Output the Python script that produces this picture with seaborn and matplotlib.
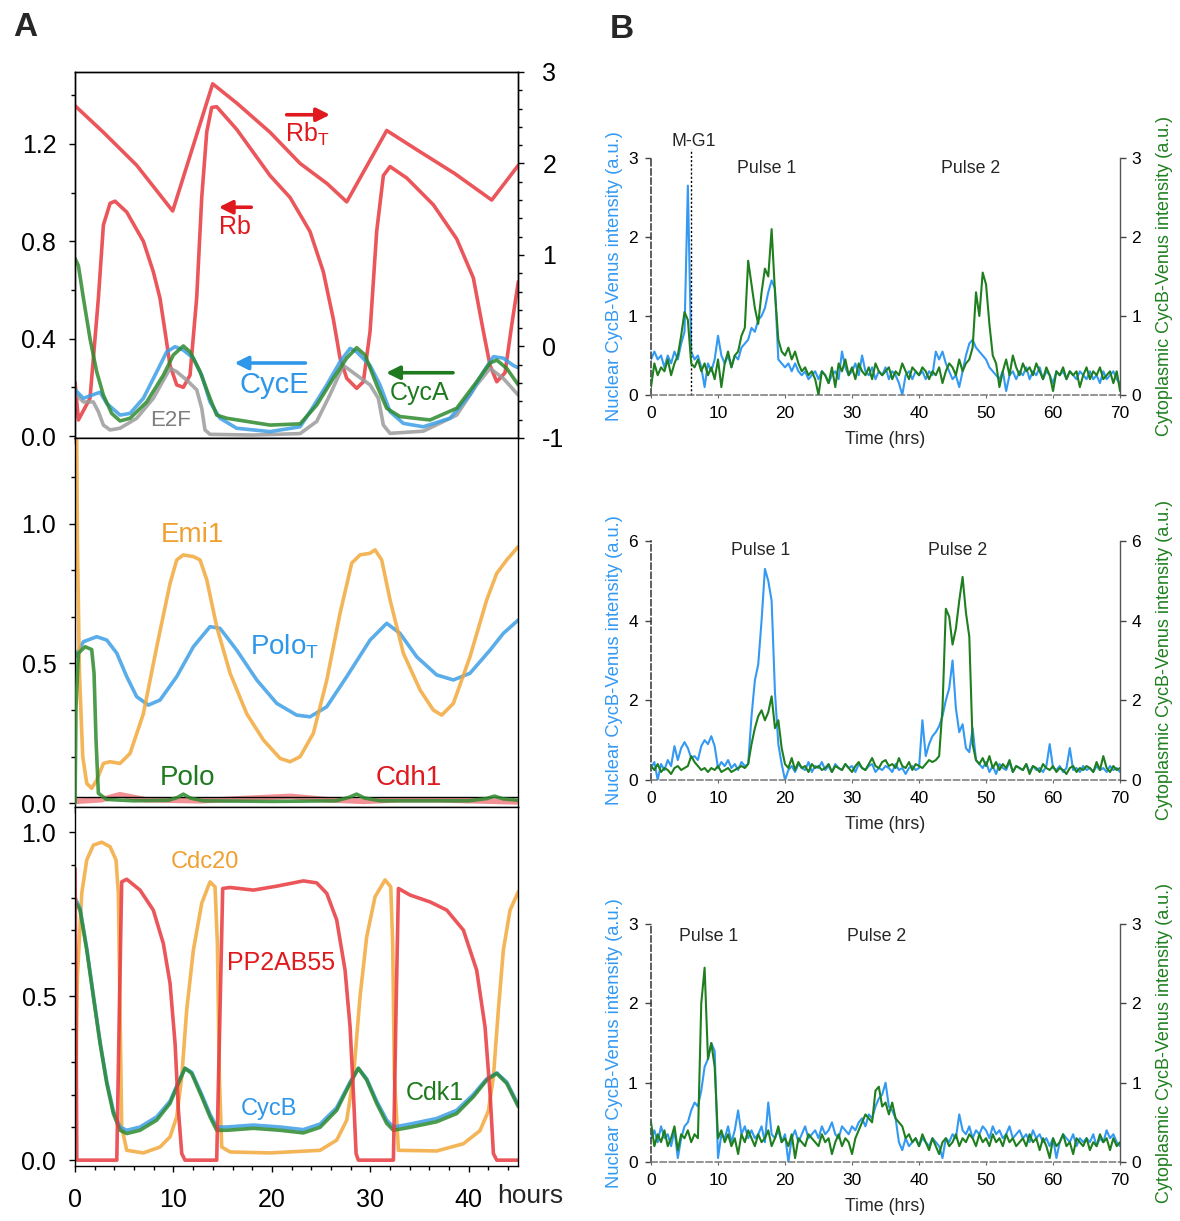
import numpy as np
import matplotlib
matplotlib.use("Agg")
import matplotlib.pyplot as plt
from matplotlib.ticker import MultipleLocator, FormatStrFormatter
import seaborn as sns

sns.set_theme(style="ticks")
plt.rcParams['font.family'] = ['Liberation Sans', 'DejaVu Sans']
plt.rcParams['mathtext.default'] = 'regular'
plt.rcParams['axes.unicode_minus'] = False

# ---------------- Panel A: model simulation (time in hours) ----------------
# top: Rb, RbT (right axis), CycE, CycA, E2F
rbT_t = [0, 2.88, 6.26, 9.92, 13.98, 16.42, 19.81, 22.86, 25.6, 27.6, 31.66, 34.86, 38.56,
         42.33, 45.03]
rbT_v = [2.63, 2.34, 1.98, 1.48, 2.87, 2.66, 2.34, 2.00, 1.78, 1.58, 2.36, 2.14, 1.89,
         1.60, 1.98]

rb_t = [0, 0.34, 1.52, 2.37, 2.88, 3.56, 4.06, 5.25, 6.94, 7.95,
        8.63, 9.14, 9.65, 10.33, 11.0, 11.68, 12.36, 12.87, 13.38, 13.88,
        14.39, 16.42, 19.81, 21.84, 22.86, 23.87, 25.22, 26.24, 26.92, 27.6,
        28.61, 29.29, 29.97, 30.64, 31.32, 32.0, 33.7, 36.4, 38.77, 40.46,
        41.48, 42.16, 42.84, 43.68, 44.36, 45.03]
rb_v = [0.22, 0.066, 0.155, 0.566, 0.867, 0.956, 0.965, 0.92, 0.80, 0.675,
        0.566, 0.43, 0.29, 0.21, 0.20, 0.25, 0.57, 0.98, 1.25, 1.35,
        1.353, 1.26, 1.07, 0.98, 0.91, 0.84, 0.675, 0.48, 0.32, 0.237,
        0.196, 0.223, 0.43, 0.84, 1.07, 1.107, 1.06, 0.95, 0.81, 0.65,
        0.43, 0.29, 0.223, 0.26, 0.456, 0.634]

cyce_t = [0, 0.85, 1.86, 2.54, 3.22, 4.57, 5.59, 6.94, 8.3, 9.31,
          10.16, 11.0, 12.02, 12.87, 13.71, 14.73, 16.42, 19.81, 22.86, 23.87,
          25.57, 26.92, 27.94, 28.61, 29.97, 30.98, 32.0, 33.35, 35.38, 38.09,
          40.12, 41.48, 42.5, 43.5, 44.52, 45.03]
cyce_v = [0.19, 0.155, 0.17, 0.18, 0.134, 0.086, 0.093, 0.155, 0.264, 0.346,
          0.367, 0.353, 0.32, 0.25, 0.14, 0.073, 0.032, 0.018, 0.038, 0.10,
          0.21, 0.305, 0.36, 0.346, 0.29, 0.21, 0.10, 0.052, 0.038, 0.073,
          0.17, 0.264, 0.326, 0.32, 0.29, 0.28]

cyca_t = [0, 0.34, 0.85, 1.52, 2.2, 2.88, 3.72, 4.57, 5.59, 7.28,
          8.97, 9.99, 11.0, 11.68, 12.7, 13.71, 14.39, 15.41, 19.81, 22.86,
          24.55, 26.24, 27.6, 28.61, 29.46, 30.64, 31.66, 33.01, 36.06, 38.77,
          40.8, 42.16, 42.84, 43.85, 45.03]
cyca_v = [0.73, 0.70, 0.566, 0.40, 0.264, 0.168, 0.093, 0.062, 0.073, 0.14,
          0.25, 0.333, 0.37, 0.346, 0.264, 0.155, 0.086, 0.073, 0.045, 0.05,
          0.127, 0.237, 0.32, 0.363, 0.333, 0.21, 0.114, 0.08, 0.066, 0.114,
          0.223, 0.30, 0.312, 0.278, 0.21]

e2f_t = [0, 0.85, 1.86, 2.37, 2.88, 3.56, 4.57, 6.26, 7.95, 9.65,
         10.33, 11.34, 12.36, 12.87, 13.2, 13.71, 18.0, 22.86, 24.55, 25.9,
         27.26, 28.61, 29.97, 30.81, 31.32, 32.0, 35.38, 38.77, 40.8, 42.16,
         43.5, 45.03]
e2f_v = [0.175, 0.14, 0.14, 0.10, 0.045, 0.025, 0.032, 0.073, 0.155, 0.278,
         0.264, 0.23, 0.19, 0.114, 0.025, 0.007, 0.004, 0.01, 0.06, 0.17,
         0.29, 0.25, 0.21, 0.155, 0.045, 0.011, 0.02, 0.086, 0.21, 0.278,
         0.237, 0.168]

# middle: Emi1, PoloT, Polo, Cdh1
emi1_t = [0, 0.17, 0.24, 0.44, 0.78, 1.19, 1.69, 2.2, 2.88, 3.56,
          4.57, 5.59, 6.94, 8.3, 9.65, 10.33, 11.0, 12.02, 12.7, 13.38,
          14.39, 15.75, 17.44, 19.13, 20.83, 21.84, 22.86, 24.21, 25.57, 26.92,
          28.11, 28.95, 29.97, 30.48, 31.15, 32.0, 33.35, 35.05, 36.4, 37.25,
          38.43, 40.12, 41.82, 42.84, 43.85, 45.03]
emi1_v = [1.40, 1.30, 0.94, 0.47, 0.166, 0.07, 0.053, 0.082, 0.142, 0.148,
          0.142, 0.178, 0.32, 0.56, 0.787, 0.871, 0.889, 0.883, 0.871, 0.80,
          0.632, 0.465, 0.32, 0.226, 0.16, 0.148, 0.166, 0.25, 0.44, 0.68,
          0.86, 0.889, 0.895, 0.907, 0.871, 0.728, 0.537, 0.405, 0.333, 0.315,
          0.357, 0.524, 0.728, 0.823, 0.871, 0.919]

poloT_t = [0, 0.85, 2.2, 3.22, 4.24, 5.25, 6.26, 7.45, 8.63, 10.33,
           12.02, 13.71, 14.73, 16.42, 18.46, 20.49, 22.52, 23.87, 25.57, 27.6,
           29.97, 31.66, 33.01, 34.71, 36.74, 38.43, 40.12, 42.16, 43.51, 45.03]
poloT_v = [0.524, 0.578, 0.596, 0.584, 0.537, 0.453, 0.381, 0.351, 0.369, 0.453,
           0.56, 0.632, 0.626, 0.548, 0.441, 0.357, 0.315, 0.309, 0.345, 0.453,
           0.584, 0.644, 0.608, 0.524, 0.459, 0.441, 0.465, 0.548, 0.608, 0.656]

polo_t = [0, 0.1, 0.34, 1.02, 1.69, 1.93, 2.13, 2.37, 3.2, 6.0,
          9.5, 10.4, 11.0, 11.7, 13.0, 20.0, 26.5, 27.8, 28.6, 29.4,
          31.0, 40.0, 41.8, 42.6, 43.5, 45.03]
polo_v = [0.0, 0.345, 0.537, 0.56, 0.55, 0.465, 0.226, 0.035, 0.013, 0.008,
          0.01, 0.02, 0.032, 0.018, 0.008, 0.006, 0.008, 0.02, 0.032, 0.018,
          0.008, 0.008, 0.016, 0.025, 0.015, 0.01]

cdh1_t = [0, 2.7, 4.55, 7.13, 12.68, 18.23, 21.92, 25.62, 29.32, 33.01, 36.71, 40.41, 45.03]
cdh1_v = [0.006, 0.012, 0.03, 0.012, 0.008, 0.018, 0.024, 0.012, 0.006, 0.012, 0.012, 0.008,
          0.004]

# bottom: Cdc20, PP2AB55, CycB, Cdk1
cdc20_t = [0, 0.24, 0.68, 1.19, 1.86, 2.71, 3.56, 4.16, 4.40, 4.57,
           4.74, 5.25, 6.94, 8.63, 9.65, 10.33, 10.84, 11.34, 12.02, 12.87,
           13.71, 14.22, 14.46, 14.66, 14.9, 15.75, 19.81, 24.89, 26.58, 27.6,
           28.28, 28.95, 29.63, 30.48, 31.49, 32.07, 32.27, 32.44, 32.85, 36.74,
           39.45, 41.14, 41.99, 42.5, 43.0, 43.51, 44.19, 45.03]
cdc20_v = [0.05, 0.56, 0.813, 0.915, 0.96, 0.969, 0.955, 0.915, 0.813, 0.457,
           0.10, 0.03, 0.022, 0.04, 0.071, 0.132, 0.254, 0.457, 0.64, 0.783,
           0.848, 0.833, 0.66, 0.254, 0.04, 0.025, 0.022, 0.03, 0.061, 0.122,
           0.254, 0.498, 0.681, 0.803, 0.854, 0.833, 0.66, 0.254, 0.03, 0.028,
           0.05, 0.09, 0.15, 0.254, 0.457, 0.64, 0.762, 0.818]

pp2a_t = [0, 0.1, 0.18, 4.24, 4.5, 4.74, 5.25, 6.6, 7.95, 8.97,
          9.65, 10.16, 10.5, 10.84, 11.17, 14.39, 14.73, 15.0, 15.75, 18.12,
          20.49, 23.19, 24.55, 25.57, 26.58, 27.43, 27.94, 28.28, 28.55, 28.78,
          32.34, 32.61, 32.85, 34.03, 36.06, 37.76, 39.45, 40.8, 41.65, 42.16,
          42.5, 42.84, 45.03]
pp2a_v = [0.889, 0.45, 0.0, 0.0, 0.457, 0.848, 0.856, 0.823, 0.762, 0.66,
          0.539, 0.356, 0.152, 0.02, 0.0, 0.0, 0.457, 0.828, 0.831, 0.823,
          0.835, 0.851, 0.845, 0.813, 0.732, 0.579, 0.406, 0.203, 0.02, 0.0,
          0.0, 0.457, 0.828, 0.808, 0.787, 0.762, 0.701, 0.579, 0.406, 0.203,
          0.02, 0.0, 0.0]

cdk1_t = [0, 0.51, 1.19, 1.86, 2.54, 3.22, 3.89, 4.57, 5.25, 6.6,
          8.3, 9.65, 10.5, 11.17, 11.85, 12.87, 13.71, 14.39, 15.41, 18.12,
          20.83, 23.19, 24.89, 26.58, 27.94, 28.78, 29.63, 30.64, 31.66, 32.34,
          34.03, 36.74, 38.77, 40.46, 41.82, 42.84, 43.85, 45.03]
cdk1_v = [0.79, 0.762, 0.64, 0.498, 0.356, 0.234, 0.142, 0.091, 0.081, 0.091,
          0.122, 0.173, 0.234, 0.28, 0.264, 0.193, 0.132, 0.091, 0.091, 0.097,
          0.091, 0.083, 0.10, 0.152, 0.234, 0.28, 0.244, 0.173, 0.112, 0.091,
          0.10, 0.117, 0.142, 0.193, 0.244, 0.264, 0.234, 0.163]
cycb_v = [0.80, 0.767, 0.645, 0.503, 0.361, 0.24, 0.15, 0.101, 0.091, 0.101,
          0.132, 0.18, 0.238, 0.28, 0.268, 0.2, 0.14, 0.101, 0.101, 0.107,
          0.101, 0.093, 0.11, 0.16, 0.238, 0.28, 0.248, 0.18, 0.122, 0.101,
          0.11, 0.127, 0.152, 0.2, 0.248, 0.266, 0.238, 0.168]

# ---------------- Panel B: single-cell CycB-Venus traces, every 30 min ----------------
t_b = np.arange(141) * 0.5

nuc_1 = [0.45, 0.55, 0.45, 0.50, 0.35, 0.50, 0.40, 0.55, 0.45, 0.65,
         0.80, 2.65, 0.55, 0.45, 0.50, 0.35, 0.10, 0.40, 0.30, 0.45,
         0.75, 0.50, 0.40, 0.50, 0.35, 0.50, 0.45, 0.60, 0.65, 0.70,
         0.85, 0.80, 0.95, 1.00, 1.10, 1.30, 1.45, 1.35, 0.45, 0.40,
         0.35, 0.40, 0.30, 0.40, 0.30, 0.25, 0.30, 0.20, 0.25, 0.30,
         0.20, 0.30, 0.25, 0.15, 0.25, 0.30, 0.20, 0.55, 0.35, 0.25,
         0.30, 0.40, 0.25, 0.50, 0.30, 0.25, 0.35, 0.20, 0.30, 0.25,
         0.35, 0.20, 0.30, 0.25, 0.15, 0.00, 0.25, 0.30, 0.20, 0.30,
         0.25, 0.30, 0.20, 0.30, 0.25, 0.55, 0.45, 0.55, 0.40, 0.30,
         0.20, 0.25, 0.10, 0.30, 0.50, 0.65, 0.70, 0.60, 0.55, 0.50,
         0.45, 0.35, 0.30, 0.25, 0.20, 0.30, 0.05, 0.25, 0.30, 0.20,
         0.30, 0.25, 0.35, 0.20, 0.30, 0.25, 0.35, 0.20, 0.30, 0.25,
         0.15, 0.30, 0.25, 0.30, 0.20, 0.30, 0.25, 0.20, 0.30, 0.25,
         0.20, 0.30, 0.20, 0.25, 0.15, 0.30, 0.20, 0.25, 0.30, 0.20,
         0.15]
cyt_1 = [0.10, 0.40, 0.25, 0.35, 0.30, 0.45, 0.25, 0.40, 0.50, 0.75,
         1.05, 0.95, 0.40, 0.35, 0.45, 0.30, 0.40, 0.25, 0.35, 0.20,
         0.45, 0.10, 0.40, 0.55, 0.35, 0.50, 0.55, 0.75, 0.85, 1.70,
         1.40, 1.10, 0.90, 1.30, 1.60, 1.50, 2.10, 1.30, 0.70, 0.55,
         0.50, 0.60, 0.45, 0.55, 0.40, 0.30, 0.35, 0.25, 0.30, 0.20,
         0.00, 0.30, 0.25, 0.15, 0.35, 0.10, 0.40, 0.30, 0.45, 0.25,
         0.35, 0.20, 0.40, 0.30, 0.25, 0.35, 0.20, 0.40, 0.30, 0.25,
         0.30, 0.35, 0.20, 0.30, 0.25, 0.40, 0.30, 0.20, 0.35, 0.30,
         0.25, 0.35, 0.30, 0.20, 0.30, 0.25, 0.35, 0.15, 0.30, 0.40,
         0.35, 0.25, 0.45, 0.30, 0.40, 0.45, 0.60, 1.30, 1.00, 1.55,
         1.40, 0.90, 0.50, 0.40, 0.10, 0.30, 0.45, 0.25, 0.50, 0.35,
         0.25, 0.40, 0.30, 0.35, 0.25, 0.40, 0.30, 0.20, 0.35, 0.25,
         0.05, 0.30, 0.25, 0.35, 0.20, 0.30, 0.25, 0.30, 0.10, 0.25,
         0.35, 0.20, 0.30, 0.25, 0.35, 0.20, 0.25, 0.30, 0.15, 0.30,
         0.05]

nuc_2 = [0.30, 0.45, 0.00, 0.40, 0.25, 0.50, 0.35, 0.85, 0.50, 0.80,
         0.95, 0.80, 0.55, 0.60, 0.50, 0.85, 1.00, 0.90, 1.10, 0.85,
         0.30, 0.45, 0.35, 0.50, 0.30, 0.40, 0.25, 0.45, 0.35, 0.40,
         1.60, 2.50, 2.90, 4.00, 5.30, 5.00, 4.50, 2.20, 0.90, 0.40,
         0.00, 0.25, 0.35, 0.20, 0.40, 0.30, 0.25, 0.45, 0.20, 0.35,
         0.30, 0.45, 0.25, 0.35, 0.20, 0.40, 0.30, 0.25, 0.40, 0.30,
         0.35, 0.20, 0.40, 0.30, 0.25, 0.35, 0.40, 0.20, 0.30, 0.25,
         0.35, 0.30, 0.20, 0.40, 0.25, 0.30, 0.15, 0.30, 0.35, 0.25,
         0.30, 1.50, 0.60, 0.90, 1.10, 1.20, 1.35, 1.60, 2.00, 2.30,
         3.00, 1.80, 1.20, 1.40, 0.80, 0.70, 1.30, 0.50, 0.40, 0.30,
         0.45, 0.20, 0.35, 0.15, 0.40, 0.30, 0.25, 0.45, 0.20, 0.35,
         0.30, 0.25, 0.40, 0.20, 0.35, 0.25, 0.30, 0.20, 0.35, 0.90,
         0.30, 0.25, 0.35, 0.20, 0.30, 0.80, 0.25, 0.30, 0.20, 0.35,
         0.25, 0.30, 0.20, 0.35, 0.25, 0.30, 0.20, 0.35, 0.25, 0.30,
         0.20]
cyt_2 = [0.35, 0.25, 0.40, 0.20, 0.30, 0.25, 0.15, 0.30, 0.35, 0.25,
         0.30, 0.35, 0.60, 0.45, 0.35, 0.25, 0.30, 0.20, 0.30, 0.25,
         0.35, 0.20, 0.25, 0.30, 0.20, 0.25, 0.30, 0.35, 0.30, 0.40,
         0.90, 1.30, 1.60, 1.75, 1.50, 1.70, 2.10, 1.30, 1.50, 0.80,
         0.40, 0.30, 0.55, 0.25, 0.45, 0.30, 0.35, 0.20, 0.40, 0.30,
         0.35, 0.25, 0.30, 0.40, 0.20, 0.35, 0.30, 0.25, 0.40, 0.30,
         0.20, 0.35, 0.45, 0.30, 0.25, 0.40, 0.55, 0.35, 0.30, 0.45,
         0.50, 0.35, 0.40, 0.30, 0.55, 0.35, 0.30, 0.45, 0.25, 0.40,
         0.35, 0.30, 0.40, 0.50, 0.45, 0.50, 0.60, 1.80, 4.30, 4.10,
         3.40, 3.80, 4.50, 5.10, 4.20, 3.60, 0.90, 0.50, 0.40, 0.55,
         0.35, 0.60, 0.30, 0.45, 0.25, 0.40, 0.30, 0.50, 0.20, 0.35,
         0.30, 0.25, 0.40, 0.15, 0.35, 0.30, 0.20, 0.40, 0.30, 0.25,
         0.35, 0.20, 0.30, 0.25, 0.15, 0.30, 0.35, 0.20, 0.30, 0.25,
         0.35, 0.30, 0.20, 0.45, 0.25, 0.60, 0.30, 0.20, 0.35, 0.25,
         0.30]

nuc_3 = [0.30, 0.40, 0.25, 0.45, 0.30, 0.35, 0.20, 0.40, 0.05, 0.30,
         0.45, 0.50, 0.65, 0.75, 0.70, 0.90, 1.20, 1.30, 1.50, 1.40,
         0.05, 0.35, 0.30, 0.45, 0.25, 0.40, 0.65, 0.35, 0.45, 0.30,
         0.40, 0.30, 0.35, 0.45, 0.25, 0.75, 0.35, 0.30, 0.40, 0.25,
         0.35, 0.00, 0.30, 0.40, 0.25, 0.35, 0.45, 0.30, 0.35, 0.40,
         0.30, 0.45, 0.35, 0.40, 0.50, 0.35, 0.30, 0.45, 0.40, 0.35,
         0.45, 0.40, 0.50, 0.55, 0.45, 0.60, 0.55, 0.70, 0.80, 0.85,
         1.00, 0.70, 0.65, 0.55, 0.25, 0.15, 0.30, 0.20, 0.25, 0.30,
         0.20, 0.30, 0.25, 0.20, 0.30, 0.25, 0.20, 0.05, 0.30, 0.25,
         0.35, 0.30, 0.60, 0.40, 0.35, 0.45, 0.30, 0.40, 0.35, 0.45,
         0.40, 0.30, 0.45, 0.35, 0.40, 0.30, 0.35, 0.45, 0.30, 0.35,
         0.40, 0.30, 0.35, 0.25, 0.40, 0.30, 0.35, 0.25, 0.30, 0.20,
         0.30, 0.05, 0.25, 0.35, 0.30, 0.25, 0.35, 0.20, 0.30, 0.25,
         0.30, 0.25, 0.35, 0.20, 0.30, 0.25, 0.40, 0.30, 0.35, 0.25,
         0.20]
cyt_3 = [0.50, 0.20, 0.35, 0.25, 0.40, 0.20, 0.30, 0.45, 0.15, 0.35,
         0.30, 0.40, 0.25, 0.35, 0.30, 2.00, 2.45, 1.30, 1.50, 1.20,
         0.30, 0.40, 0.25, 0.35, 0.20, 0.30, 0.10, 0.35, 0.25, 0.40,
         0.30, 0.20, 0.35, 0.25, 0.30, 0.40, 0.20, 0.30, 0.45, 0.25,
         0.30, 0.20, 0.35, 0.05, 0.30, 0.25, 0.20, 0.35, 0.30, 0.25,
         0.20, 0.35, 0.25, 0.30, 0.10, 0.25, 0.35, 0.20, 0.30, 0.25,
         0.10, 0.30, 0.40, 0.50, 0.60, 0.55, 0.50, 0.90, 0.95, 0.70,
         0.75, 0.60, 0.75, 0.55, 0.50, 0.45, 0.30, 0.35, 0.25, 0.30,
         0.20, 0.35, 0.25, 0.15, 0.30, 0.20, 0.10, 0.25, 0.30, 0.20,
         0.25, 0.35, 0.20, 0.30, 0.25, 0.35, 0.30, 0.20, 0.35, 0.25,
         0.30, 0.20, 0.35, 0.25, 0.30, 0.20, 0.35, 0.25, 0.30, 0.20,
         0.25, 0.30, 0.20, 0.35, 0.25, 0.30, 0.15, 0.30, 0.20, 0.05,
         0.30, 0.20, 0.25, 0.35, 0.20, 0.25, 0.10, 0.30, 0.25, 0.20,
         0.30, 0.15, 0.25, 0.20, 0.35, 0.25, 0.30, 0.15, 0.30, 0.20,
         0.25]

# ---------------- colours ----------------
RED, BLUE, GREEN = '#e8383e', '#3d9fe6', '#2e8a2e'
GREY, ORANGE = '#9b9b9b', '#f2a83a'
RED_T, BLUE_T, GREEN_T = '#e0191e', '#2e97ea', '#1f7a1f'
GREY_T, ORANGE_T = '#7d7d7d', '#f0a030'
B_BLUE, B_GREEN = '#3399f2', '#1f7f1f'

fig = plt.figure(figsize=(11.8, 12.21), dpi=100)


def curve(ax, t, v, color, lw=2.6, alpha=0.85, z=2):
    sns.lineplot(x=t, y=v, ax=ax, color=color, lw=lw, alpha=alpha, zorder=z,
                 errorbar=None, solid_capstyle='round', solid_joinstyle='round')


def style_a(ax, ylim, major, minor, labels_x):
    ax.set_xlim(0, 45)
    ax.set_ylim(*ylim)
    ax.xaxis.set_major_locator(MultipleLocator(10))
    ax.xaxis.set_minor_locator(MultipleLocator(2))
    ax.yaxis.set_major_locator(MultipleLocator(major))
    ax.yaxis.set_minor_locator(MultipleLocator(minor))
    ax.yaxis.set_major_formatter(FormatStrFormatter('%.1f'))
    ax.tick_params(which='major', direction='out', length=4.5, width=1, color='black',
                   labelsize=18, labelcolor='black')
    ax.tick_params(which='minor', direction='out', length=2.8, width=1, color='black')
    ax.tick_params(axis='y', which='major', pad=9)
    ax.tick_params(axis='x', labelbottom=labels_x, labelsize=18, pad=11)
    ax.tick_params(axis='y', which='both', right=False)
    for sp in ax.spines.values():
        sp.set_color('black')
        sp.set_linewidth(1.0)
    ax.set_xlabel('')
    ax.set_ylabel('')


# --- A top ---
axA1 = fig.add_axes([0.0636, 0.6413, 0.3754, 0.2998])
curve(axA1, rb_t, rb_v, RED)
curve(axA1, e2f_t, e2f_v, GREY)
curve(axA1, cyce_t, cyce_v, BLUE)
curve(axA1, cyca_t, cyca_v, GREEN)
style_a(axA1, (-0.008, 1.496), 0.4, 0.2, False)
axA1r = axA1.twinx()
curve(axA1r, rbT_t, rbT_v, RED)
axA1r.set_ylim(-1, 3)
axA1r.yaxis.set_major_locator(MultipleLocator(1))
axA1r.yaxis.set_minor_locator(MultipleLocator(0.2))
axA1r.tick_params(which='major', direction='out', length=4.5, width=1, color='black',
                  labelsize=18, labelcolor='black', pad=13)
axA1r.tick_params(which='minor', direction='out', length=2.8, width=1, color='black')
axA1r.set_ylabel('')
for sp in axA1r.spines.values():
    sp.set_color('black')
    sp.set_linewidth(1.0)


def arrow(ax, tail, head, color):
    ax.annotate('', xy=head, xytext=tail,
                arrowprops=dict(arrowstyle='-|>', color=color, lw=2.6, mutation_scale=20,
                                shrinkA=0, shrinkB=0))


axA1.text(23.6, 1.24, r'Rb$_T$', color=RED_T, fontsize=18, ha='center', va='center')
arrow(axA1, (21.5, 1.32), (25.9, 1.32), RED_T)
axA1.text(16.2, 0.86, 'Rb', color=RED_T, fontsize=18, ha='center', va='center')
arrow(axA1, (17.9, 0.94), (14.6, 0.94), RED_T)
axA1.text(20.2, 0.21, 'CycE', color=BLUE_T, fontsize=21, ha='center', va='center')
arrow(axA1, (23.4, 0.30), (16.2, 0.30), BLUE_T)
axA1.text(35.0, 0.175, 'CycA', color=GREEN_T, fontsize=18, ha='center', va='center')
arrow(axA1, (38.4, 0.26), (31.6, 0.26), GREEN_T)
axA1.text(9.7, 0.065, 'E2F', color=GREY_T, fontsize=16, ha='center', va='center')

# --- A middle ---
axA2 = fig.add_axes([0.0636, 0.3391, 0.3754, 0.3022])
curve(axA2, cdh1_t, cdh1_v, RED, lw=4, alpha=0.55)
axA2.axhline(0.02, color='black', lw=1.0, zorder=3)
curve(axA2, polo_t, polo_v, GREEN, z=4)
curve(axA2, poloT_t, poloT_v, BLUE)
curve(axA2, emi1_t, emi1_v, ORANGE)
style_a(axA2, (-0.014, 1.308), 0.5, 0.5 / 3, False)
axA2.text(11.9, 0.96, 'Emi1', color=ORANGE_T, fontsize=20, ha='center', va='center')
axA2.text(21.3, 0.56, r'Polo$_T$', color=BLUE_T, fontsize=20, ha='center', va='center')
axA2.text(11.4, 0.09, 'Polo', color=GREEN_T, fontsize=20, ha='center', va='center')
axA2.text(33.9, 0.09, 'Cdh1', color=RED_T, fontsize=20, ha='center', va='center')

# --- A bottom ---
axA3 = fig.add_axes([0.0636, 0.0450, 0.3754, 0.2940])
curve(axA3, cdc20_t, cdc20_v, ORANGE)
curve(axA3, cdk1_t, cycb_v, BLUE)
curve(axA3, cdk1_t, cdk1_v, GREEN)
curve(axA3, pp2a_t, pp2a_v, RED)
style_a(axA3, (-0.018, 1.076), 0.5, 0.1, True)
axA3.xaxis.set_major_formatter(FormatStrFormatter('%d'))
axA3.text(13.2, 0.91, 'Cdc20', color=ORANGE_T, fontsize=17, ha='center', va='center')
axA3.text(20.9, 0.60, 'PP2AB55', color=RED_T, fontsize=18, ha='center', va='center')
axA3.text(19.7, 0.155, 'CycB', color=BLUE_T, fontsize=17, ha='center', va='center')
axA3.text(36.5, 0.206, 'Cdk1', color=GREEN_T, fontsize=18, ha='center', va='center')

fig.text(530 / 1180, 1 - 1196 / 1221, 'hours', fontsize=19, ha='center', va='center')


# ---------------- Panel B ----------------
def trace_panel(rect, nuc, cyt, ymax, pulses, mg1=False):
    ax = fig.add_axes(rect)
    ax2 = ax.twinx()
    sns.lineplot(x=t_b, y=nuc, ax=ax, color=B_BLUE, lw=1.5, errorbar=None)
    sns.lineplot(x=t_b, y=cyt, ax=ax2, color=B_GREEN, lw=1.5, errorbar=None)
    for a in (ax, ax2):
        a.set_xlim(0, 70)
        a.set_ylim(0, ymax)
        a.yaxis.set_major_locator(MultipleLocator(ymax / 3))
        a.yaxis.set_major_formatter(FormatStrFormatter('%d'))
        a.tick_params(axis='y', which='major', direction='out', length=4, width=1,
                      color='#444444', labelsize=12.5, labelcolor='black')
        a.spines['top'].set_visible(False)
    ax.tick_params(axis='y', pad=5.5)
    ax2.tick_params(axis='y', pad=4)
    ax.xaxis.set_major_locator(MultipleLocator(10))
    ax.tick_params(axis='x', direction='out', length=2, width=0.8, color='#666666',
                   labelsize=12.5, labelcolor='black', pad=6)
    ax.spines['right'].set_visible(False)
    ax2.spines['left'].set_visible(False)
    ax2.spines['bottom'].set_visible(False)
    ax.spines['left'].set_color('#333333')
    ax.spines['left'].set_linestyle((0, (4, 2)))
    ax.spines['left'].set_linewidth(1.1)
    ax.spines['bottom'].set_color('#777777')
    ax.spines['bottom'].set_linestyle((0, (4, 2)))
    ax.spines['bottom'].set_linewidth(1.1)
    ax2.spines['right'].set_color('#555555')
    ax2.spines['right'].set_linewidth(1.0)
    ax.set_xlabel('Time (hrs)', fontsize=12.8, labelpad=7)
    ax.set_ylabel('Nuclear CycB-Venus intensity (a.u.)', color=B_BLUE, fontsize=13.2,
                  labelpad=4)
    ax2.set_ylabel('Cytoplasmic CycB-Venus intensity (a.u.)', color=B_GREEN, fontsize=13,
                   labelpad=11)
    for i, (x, y) in enumerate(pulses):
        ax.text(x, y, f'Pulse {i + 1}', fontsize=12.8, ha='center', va='center')
    if mg1:
        ax.axvline(6, ymin=0, ymax=1.04, color='black', lw=1.0, ls=(0, (1.5, 1.5)),
                   clip_on=False)
        ax.text(6.4, ymax * 1.07, 'M-G1', fontsize=12.8, ha='center', va='center')
    return ax, ax2


trace_panel([0.5517, 0.6765, 0.3975, 0.1941], nuc_1, cyt_1, 3,
            [(17.3, 2.87), (47.7, 2.87)], mg1=True)
trace_panel([0.5517, 0.3612, 0.3975, 0.1957], nuc_2, cyt_2, 6,
            [(16.3, 5.75), (45.7, 5.75)])
trace_panel([0.5517, 0.0483, 0.3975, 0.1949], nuc_3, cyt_3, 3,
            [(8.6, 2.84), (33.6, 2.84)])

fig.text(25 / 1180, 1 - 28 / 1221, 'A', fontsize=24, fontweight='bold', ha='center',
         va='center')
fig.text(622 / 1180, 1 - 29 / 1221, 'B', fontsize=24, fontweight='bold', ha='center',
         va='center')

fig.savefig('out.png', dpi=100, facecolor='white')
